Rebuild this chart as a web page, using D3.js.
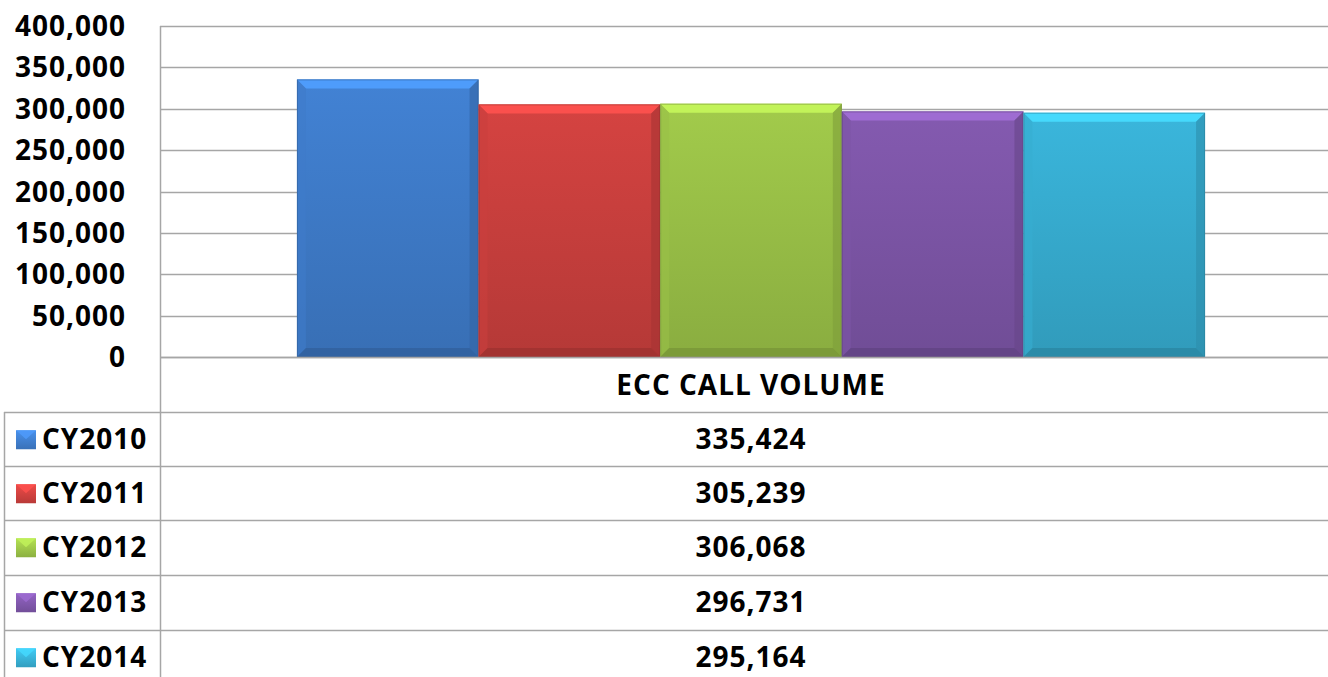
<!DOCTYPE html>
<html>
<head>
<meta charset="utf-8">
<script src="https://cdn.jsdelivr.net/npm/d3@7/dist/d3.min.js"></script>
<style>
  html, body { margin: 0; padding: 0; background: #fff; }
  svg { display: block; }
  text { font-family: "Open Sans", "DejaVu Sans", sans-serif; font-weight: 700; fill: #000; }
</style>
</head>
<body>
<svg id="chart" width="1328" height="677"></svg>
<script>
// ECC call volume by calendar year
const category = "ECC CALL VOLUME";
const years = ["CY2010", "CY2011", "CY2012", "CY2013", "CY2014"];
const volumes = [335424, 305239, 306068, 296731, 295164];
const yTicks = [0, 50000, 100000, 150000, 200000, 250000, 300000, 350000, 400000];
const colors = ["#4282d4", "#d54341", "#a2cb4b", "#845ab0", "#3ab6dc"];

const W = 1328, H = 677;
// the category band runs slightly past the visible right edge
const plot = { left: 160, right: 1328, bandRight: 1342, top: 26, bottom: 357 };
const rowTops = [412, 466, 520, 575, 630];
const rowH = 54.5;
const tableLeft = 4;
const grid = "#a6a6a6";
const fontSize = 28;
const tracking = 1;

const svg = d3.select("#chart");
const defs = svg.append("defs");

const y = d3.scaleLinear().domain([0, 400000]).range([plot.bottom, plot.top]);
const x0 = d3.scaleBand().domain([category]).range([plot.left, plot.bandRight]).padding(0);
const x1 = d3.scaleBand().domain(years).range([0, x0.bandwidth()]).paddingInner(0).paddingOuter(0.754);

const fmt = d3.format(",");

// horizontal gridlines
svg.append("g").selectAll("line").data(yTicks).join("line")
  .attr("x1", plot.left).attr("x2", plot.right)
  .attr("y1", d => Math.round(y(d)) + 0.5).attr("y2", d => Math.round(y(d)) + 0.5)
  .attr("stroke", grid).attr("stroke-width", 1.5);

// y axis labels
const yAxis = d3.axisLeft(y).tickValues(yTicks).tickFormat(fmt).tickSize(0).tickPadding(0);
const ya = svg.append("g").attr("transform", `translate(126,0)`).call(yAxis);
ya.select(".domain").remove();
ya.selectAll("text").attr("font-size", fontSize).attr("font-family", '"Open Sans", sans-serif')
  .attr("font-weight", 700).attr("fill", "#000").attr("dy", "0.34em")
  .attr("letter-spacing", tracking);

// bar gradients
function shade(c, k) { return d3.color(c).darker(k).formatHex(); }
function tint(c, k) { return d3.color(c).brighter(k).formatHex(); }
colors.forEach((c, i) => {
  const g = defs.append("linearGradient").attr("id", "bg" + i)
    .attr("x1", 0).attr("y1", 0).attr("x2", 0).attr("y2", 1);
  g.append("stop").attr("offset", 0).attr("stop-color", c);
  g.append("stop").attr("offset", 1).attr("stop-color", shade(c, 0.45));
});

// bars with bevelled edges
const bars = svg.append("g").selectAll("g").data(years).join("g")
  .attr("transform", d => `translate(${x0(category) + x1(d)},0)`);

bars.each(function (d, i) {
  const g = d3.select(this);
  const w = x1.bandwidth();
  const top = y(volumes[i]);
  const h = plot.bottom - top;
  const b = 9;
  const c = colors[i];
  g.append("rect").attr("x", 0).attr("y", top).attr("width", w).attr("height", h)
    .attr("fill", `url(#bg${i})`);
  // top bevel (light)
  g.append("path").attr("d", `M0,${top}L${w},${top}L${w - b},${top + b}L${b},${top + b}Z`)
    .attr("fill", tint(c, 0.55)).attr("opacity", 0.9);
  // left bevel
  g.append("path").attr("d", `M0,${top}L${b},${top + b}L${b},${plot.bottom - b}L0,${plot.bottom}Z`)
    .attr("fill", shade(c, 0.15)).attr("opacity", 0.6);
  // right bevel
  g.append("path").attr("d", `M${w},${top}L${w - b},${top + b}L${w - b},${plot.bottom - b}L${w},${plot.bottom}Z`)
    .attr("fill", shade(c, 0.7)).attr("opacity", 0.6);
  // bottom bevel
  g.append("path").attr("d", `M0,${plot.bottom}L${b},${plot.bottom - b}L${w - b},${plot.bottom - b}L${w},${plot.bottom}Z`)
    .attr("fill", shade(c, 0.9)).attr("opacity", 0.7);
  g.append("rect").attr("x", 0.5).attr("y", top + 0.5).attr("width", w - 1).attr("height", h - 1)
    .attr("fill", "none").attr("stroke", shade(c, 1.0)).attr("stroke-opacity", 0.5);
});

// baseline redrawn over the bars
svg.append("line").attr("x1", plot.left).attr("x2", plot.right)
  .attr("y1", Math.round(y(0)) + 0.5).attr("y2", Math.round(y(0)) + 0.5)
  .attr("stroke", grid).attr("stroke-width", 1.5);

// data table
const table = svg.append("g");
table.append("line").attr("x1", plot.left + 0.5).attr("x2", plot.left + 0.5)
  .attr("y1", plot.top).attr("y2", H).attr("stroke", grid).attr("stroke-width", 1.5);
table.append("line").attr("x1", tableLeft + 0.5).attr("x2", tableLeft + 0.5)
  .attr("y1", rowTops[0]).attr("y2", H).attr("stroke", grid).attr("stroke-width", 1.5);
table.selectAll("line.row").data(rowTops).join("line").attr("class", "row")
  .attr("x1", tableLeft).attr("x2", plot.right)
  .attr("y1", d => d + 0.5).attr("y2", d => d + 0.5)
  .attr("stroke", grid).attr("stroke-width", 1.5);

const cx = x0(category) + x0.bandwidth() / 2;

// category label
table.append("text").attr("x", cx).attr("y", (plot.bottom + rowTops[0]) / 2 + 1)
  .attr("text-anchor", "middle").attr("dy", "0.34em").attr("font-size", fontSize)
  .attr("letter-spacing", tracking).text(category);

// rows: legend key, year, value
const rows = table.selectAll("g.r").data(years).join("g").attr("class", "r")
  .attr("transform", (d, i) => `translate(0,${rowTops[i] + rowH / 2})`);

colors.forEach((c, i) => {
  const g = defs.append("linearGradient").attr("id", "kg" + i)
    .attr("x1", 0).attr("y1", 0).attr("x2", 0).attr("y2", 1);
  g.append("stop").attr("offset", 0).attr("stop-color", tint(c, 0.3));
  g.append("stop").attr("offset", 1).attr("stop-color", shade(c, 0.4));
});
rows.append("rect").attr("x", 16).attr("y", -9).attr("width", 20).attr("height", 19)
  .attr("fill", (d, i) => `url(#kg${i})`);
rows.append("path").attr("d", "M16,-9L36,-9L26,0Z")
  .attr("fill", (d, i) => tint(colors[i], 0.5)).attr("opacity", 0.8);
rows.append("text").attr("x", 42).attr("dy", "0.34em").attr("font-size", fontSize)
  .attr("letter-spacing", tracking).text(d => d);
rows.append("text").attr("x", cx).attr("dy", "0.34em")
  .attr("text-anchor", "middle").attr("font-size", fontSize)
  .attr("letter-spacing", tracking).text((d, i) => fmt(volumes[i]));
</script>
</body>
</html>
